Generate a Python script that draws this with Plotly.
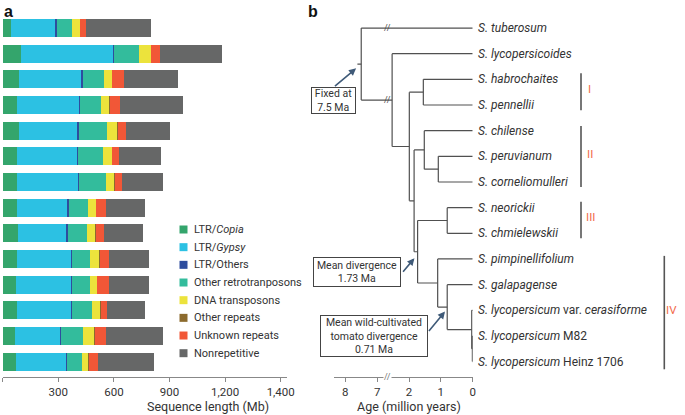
import plotly.graph_objects as go

W, H = 685, 415

# ---------------- Panel a data ----------------
bar_rows = list(range(14))
categories = ["LTR/<i>Copia</i>", "LTR/<i>Gypsy</i>", "LTR/Others", "Other retrotranposons",
              "DNA transposons", "Other repeats", "Unknown repeats", "Nonrepetitive"]
cat_colors = ["#34a56c", "#2cc1e3", "#2e4d9e", "#33bc9c", "#ece33c", "#8c6b2e", "#f15737", "#666767"]
ltr_copia = [45, 99, 88, 76, 88, 76, 76, 76, 81, 76, 72, 79, 68, 72]
ltr_gypsy = [237, 498, 335, 338, 315, 327, 330, 273, 264, 293, 297, 290, 241, 270]
ltr_others = [9, 6, 9, 3, 9, 3, 6, 7, 8, 5, 5, 5, 8, 5]
other_retro = [81, 134, 113, 115, 149, 135, 146, 104, 100, 99, 99, 108, 118, 81]
dna_transposons = [45, 62, 45, 44, 58, 49, 45, 44, 47, 49, 36, 43, 61, 36]
other_repeats = [2, 2, 2, 2, 2, 2, 2, 2, 2, 2, 2, 6, 2, 4]
unknown_repeats = [31, 48, 61, 53, 43, 37, 37, 50, 45, 50, 63, 32, 60, 48]
nonrepetitive = [349, 336, 293, 344, 239, 227, 221, 210, 212, 216, 214, 203, 309, 301]
series = [ltr_copia, ltr_gypsy, ltr_others, other_retro, dna_transposons,
          other_repeats, unknown_repeats, nonrepetitive]
seq_tickvals = [0, 300, 600, 900, 1200, 1500]
seq_ticktext = ["0", "300", "600", "900", "1,200", "1,400"]

# ---------------- Panel b data ----------------
leaf_keys = ["tub", "lyd", "hab", "pen", "chi", "per", "cor", "neo", "chm", "pim", "gal", "cer", "m82", "hei"]
leaf_labels = ["<i>S. tuberosum</i>", "<i>S. lycopersicoides</i>", "<i>S. habrochaites</i>",
               "<i>S. pennellii</i>", "<i>S. chilense</i>", "<i>S. peruvianum</i>",
               "<i>S. corneliomulleri</i>", "<i>S. neorickii</i>", "<i>S. chmielewskii</i>",
               "<i>S. pimpinellifolium</i>", "<i>S. galapagense</i>",
               "<i>S. lycopersicum</i> var. <i>cerasiforme</i>", "<i>S. lycopersicum</i> M82",
               "<i>S. lycopersicum</i> Heinz 1706"]
node_keys = ["root", "B", "C", "D", "E", "F", "G", "H", "I", "J", "K", "L", "M"]
node_ages = [7.5, 2.53, 1.99, 1.55, 1.84, 1.52, 1.08, 1.73, 0.80, 1.10, 0.80, 0.03, 0.01]
node_children = [["tub", "B"], ["lyd", "C"], ["D", "E"], ["hab", "pen"], ["F", "H"],
                 ["chi", "G"], ["per", "cor"], ["I", "J"], ["neo", "chm"], ["pim", "K"],
                 ["gal", "L"], ["cer", "M"], ["m82", "hei"]]
age_tickvals = [0, 1, 2, 7, 8]
clade_names = ["I", "II", "III", "IV"]
clade_spans = [(1.76, 3.2), (3.82, 6.2), (6.77, 8.19), (8.88, 13.3)]


def age_axis(a):
    # broken age axis: 2-7 Ma compressed
    return a if a < 2.7 else a - 4.0


age = {k: 0.0 for k in leaf_keys}
ypos = {k: i for i, k in enumerate(leaf_keys)}
kids = {}
for k, a, c in zip(node_keys, node_ages, node_children):
    age[k] = a
    kids[k] = c


def get_y(k):
    if k in ypos:
        return ypos[k]
    ys = [get_y(c) for c in kids[k]]
    ypos[k] = (ys[0] + ys[-1]) / 2
    return ypos[k]


get_y("root")
tx, ty = [], []
for k in node_keys:
    ax_ = age_axis(age[k])
    cy = [ypos[c] for c in kids[k]]
    tx += [ax_, ax_, None]
    ty += [min(cy), max(cy), None]
    for c in kids[k]:
        tx += [ax_, age_axis(age[c]), None]
        ty += [ypos[c], ypos[c], None]
# small stub at root
tx += [age_axis(age["root"]), age_axis(age["root"] + 0.12), None]
ty += [ypos["root"], ypos["root"], None]

fig = go.Figure()
for name, vals, col in zip(categories, series, cat_colors):
    fig.add_trace(go.Bar(x=vals, y=bar_rows, orientation="h", name=name,
                         marker=dict(color=col, line=dict(width=0)), showlegend=False))

fig.add_trace(go.Scatter(x=tx, y=ty, mode="lines", xaxis="x2", yaxis="y",
                         line=dict(color="#505050", width=1.2), showlegend=False,
                         hoverinfo="skip"))

FONT = "Roboto"
ann = []
shapes = []

# tree leaf labels
for k, lab in zip(leaf_keys, leaf_labels):
    ann.append(dict(x=0, y=ypos[k], xref="x2", yref="y", text=lab, showarrow=False,
                    xanchor="left", xshift=3, font=dict(size=12, color="#333333", family=FONT)))

# break marks on branches
for k in ["tub", "B"]:
    ann.append(dict(x=2.69, y=ypos[k], xref="x2", yref="y", text="//", showarrow=False,
                    font=dict(size=9, color="#505050", family=FONT)))
ann.append(dict(x=2.66, y=38 / H, xref="x2", yref="paper", text="//", showarrow=False,
                yanchor="middle", yshift=0, bgcolor="white", borderpad=0,
                font=dict(size=9, color="#777777", family=FONT)))

# clade bars and labels
clade_x = [581, 581, 581, 664.3]
clade_lx = [592.7, 594.7, 596.5, 679.3]
for nm, (y0, y1), cx, lx in zip(clade_names, clade_spans, clade_x, clade_lx):
    shapes.append(dict(type="line", xref="paper", yref="y", x0=cx / W, x1=cx / W, y0=y0, y1=y1,
                       line=dict(color="#555555", width=1.6)))
    ann.append(dict(x=lx / W, y=(y0 + y1) / 2 - 0.1, xref="paper", yref="y", text=nm, showarrow=False,
                    font=dict(size=11.5, color="#f26a4b", family=FONT)))

# boxed notes
boxes = [("Fixed at<br>7.5 Ma", 333.4, 100.6, 45, 27),
         ("Mean divergence<br>1.73 Ma", 356.9, 271.7, 88, 30),
         ("Mean wild-cultivated<br>tomato divergence<br>0.71 Ma", 373.5, 335.9, 108, 42)]
for t, cx, cy, w, h in boxes:
    ann.append(dict(x=cx / W, y=1 - cy / H, xref="paper", yref="paper", text=t, showarrow=False,
                    width=w - 2, height=h - 2, borderpad=0, bordercolor="#444444", borderwidth=1,
                    bgcolor="white", align="center", xanchor="center", yanchor="middle",
                    font=dict(size=10.5, color="#333333", family=FONT)))
arrows = [(3.66, 1.57, -22.7, 19), (1.83, 8.97, -12.6, 15), (0.87, 11.05, -17.3, 21)]
for hx, hy, axp, ayp in arrows:
    ann.append(dict(x=hx, y=hy, xref="x2", yref="y", text="", showarrow=True, ax=axp, ay=ayp,
                    arrowhead=2, arrowsize=0.9, arrowwidth=1.6, arrowcolor="#3f5a78", standoff=0))

# legend (manual)
for i, (name, col) in enumerate(zip(categories, cat_colors)):
    yc = 229.5 + i * 17.67
    shapes.append(dict(type="rect", xref="paper", yref="paper", x0=179.5 / W, x1=187.5 / W,
                       y0=1 - (yc + 4) / H, y1=1 - (yc - 4) / H,
                       fillcolor=col, line=dict(width=0)))
    ann.append(dict(x=191.5 / W, y=1 - yc / H, xref="paper", yref="paper", text=name,
                    showarrow=False, xanchor="left", yanchor="middle",
                    font=dict(size=11, color="#333333", family=FONT)))

# panel letters and axis titles
ann.append(dict(x=2 / W, y=1 - 1 / H, xref="paper", yref="paper", text="<b>a</b>", showarrow=False,
                xanchor="left", yanchor="top", font=dict(size=16, color="#111111", family="Liberation Sans")))
ann.append(dict(x=306 / W, y=1 - 1 / H, xref="paper", yref="paper", text="<b>b</b>", showarrow=False,
                xanchor="left", yanchor="top", font=dict(size=16, color="#111111", family="Liberation Sans")))
ann.append(dict(x=145 / W, y=1 - 406.5 / H, xref="paper", yref="paper", text="Sequence length (Mb)",
                showarrow=False, yanchor="middle", font=dict(size=12.5, color="#333333", family=FONT)))
ann.append(dict(x=409 / W, y=1 - 406.5 / H, xref="paper", yref="paper", text="Age (million years)",
                showarrow=False, yanchor="middle", font=dict(size=12.5, color="#333333", family=FONT)))

axis_common = dict(showline=True, linecolor="#888888", linewidth=1, ticks="outside", ticklen=4,
                   tickcolor="#888888", showgrid=False, zeroline=False, automargin=False,
                   tickfont=dict(size=11.5, color="#333333", family=FONT))
fig.update_layout(
    width=W, height=H, margin=dict(l=0, r=0, t=0, b=0, autoexpand=False),
    paper_bgcolor="white", plot_bgcolor="white",
    barmode="stack", bargap=0.3, showlegend=False,
    xaxis=dict(domain=[2.7 / W, 287 / W], range=[0, 1534], tickvals=seq_tickvals,
               ticktext=seq_ticktext, anchor="y", **axis_common),
    xaxis2=dict(domain=[334 / W, 472.7 / W], range=[4.355, 0],
                tickvals=[age_axis(a) for a in age_tickvals],
                ticktext=[str(a) for a in age_tickvals], anchor="y", **axis_common),
    yaxis=dict(domain=[38 / H, 1 - 15.2 / H], range=[13.6, -0.5], visible=False, automargin=False),
    annotations=ann, shapes=shapes,
    font=dict(family=FONT),
)
fig.write_html("out.html", config={"displayModeBar": False},
               post_script="document.body.style.margin='0px';document.body.style.overflow='hidden';")
